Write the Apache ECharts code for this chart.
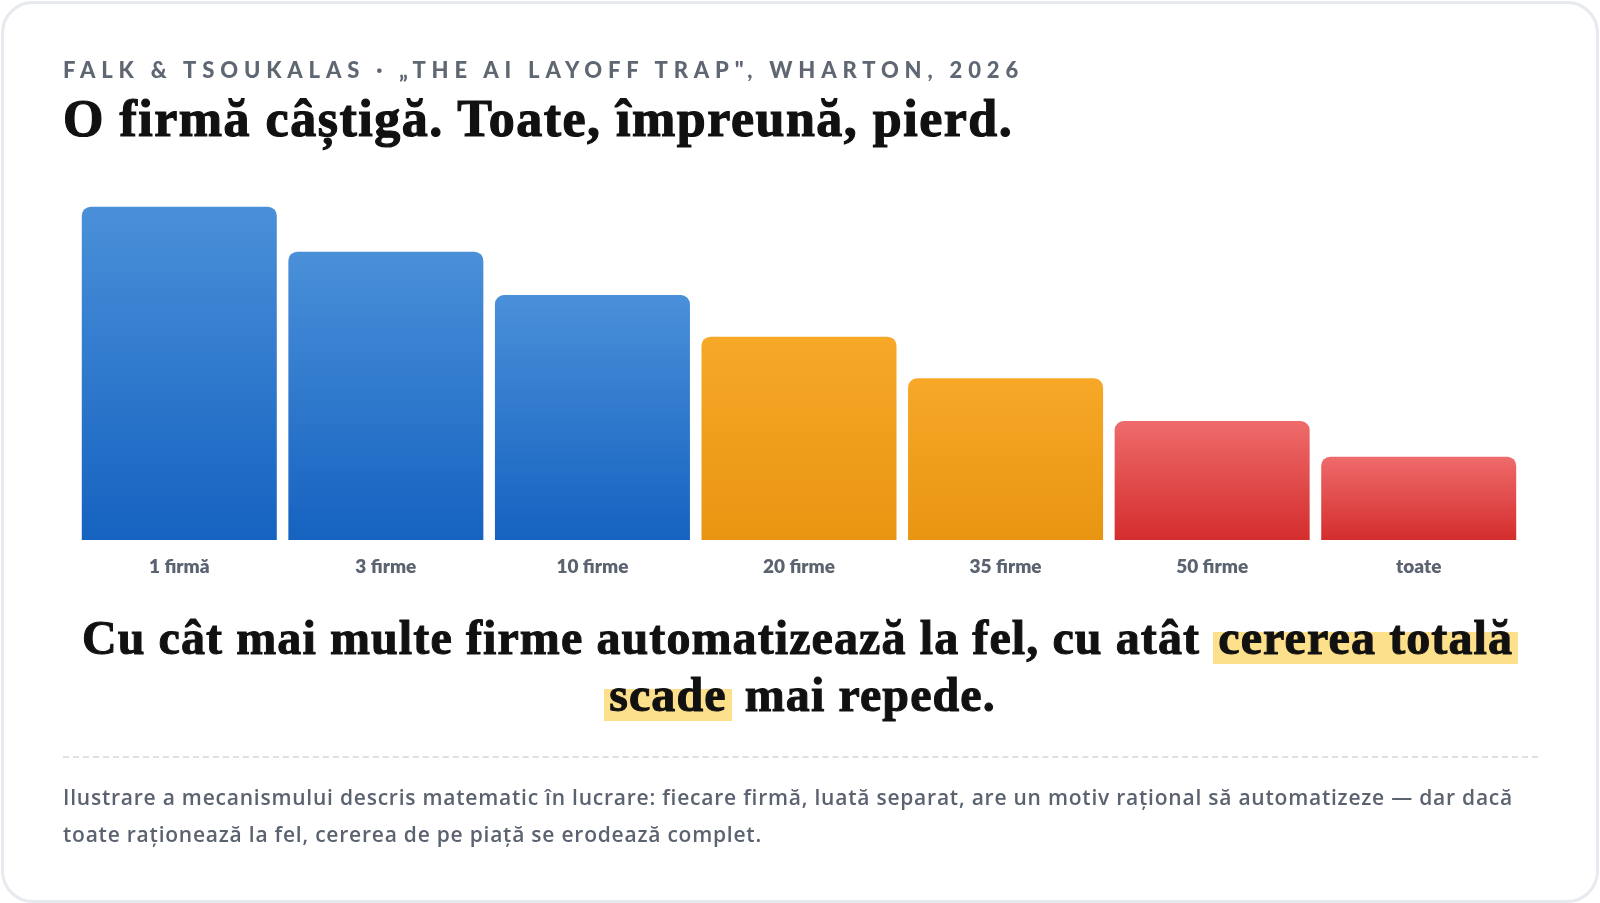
<!DOCTYPE html>
<html><head><meta charset="utf-8">
<script src="https://cdn.jsdelivr.net/npm/echarts@6/dist/echarts.min.js"></script>
<style>
html,body{margin:0;padding:0;background:#fff;}
#card{position:absolute;left:1px;top:1px;width:1592px;height:896px;border:3px solid #e6e9ee;border-radius:32px;background:#fff;box-sizing:content-box;}
#chart{position:absolute;left:0;top:0;width:1600px;height:903px;}
.t{position:absolute;white-space:nowrap;}
#kicker{left:63px;top:56px;font-family:Lato,sans-serif;font-weight:900;font-size:22px;letter-spacing:5.85px;color:#5f6772;}
#title{left:63px;top:89px;font-family:"Liberation Serif",serif;font-weight:700;font-size:52px;letter-spacing:1.5px;color:#111;-webkit-text-stroke:1.2px #111;}
#concl{left:0;width:1600px;top:609px;text-align:center;font-family:"Liberation Serif",serif;font-weight:700;font-size:48px;letter-spacing:1.1px;line-height:57px;color:#111;-webkit-text-stroke:1px #111;}
.hl{background:linear-gradient(transparent 40%,#fde08b 40%);padding:0 5px;}
#rule{position:absolute;left:63px;width:1475px;top:756px;border-top:2px dashed #dde0e5;}
#note{left:63px;top:779px;font-family:"Open Sans",sans-serif;font-weight:600;font-size:21px;letter-spacing:0.77px;line-height:37px;color:#5b6370;}
</style></head>
<body>
<div id="card"></div>
<div id="chart"></div>
<div class="t" id="kicker">FALK &amp; TSOUKALAS · „THE AI LAYOFF TRAP", WHARTON, 2026</div>
<div class="t" id="title">O firmă câștigă. Toate, împreună, pierd.</div>
<div class="t" id="concl">Cu cât mai multe firme automatizează la fel, cu atât <span class="hl">cererea totală</span><br><span class="hl">scade</span> mai repede.</div>
<div id="rule"></div>
<div class="t" id="note">Ilustrare a mecanismului descris matematic în lucrare: fiecare firmă, luată separat, are un motiv rațional să automatizeze — dar dacă<br>toate raționează la fel, cererea de pe piață se erodează complet.</div>
<script>
const categories = ['1 firmă','3 firme','10 firme','20 firme','35 firme','50 firme','toate'];
const demand = [100, 86.5, 73.5, 61, 48.5, 35.7, 25];
const groups = ['blue','blue','blue','orange','orange','red','red'];
const palette = {
  blue:['#4a90d9','#1562c0'],
  orange:['#f7a827','#e89512'],
  red:['#ef6b6b','#d42d2d']
};
const chart = echarts.init(document.getElementById('chart'), null, {renderer:'canvas'});
chart.setOption({
  animation:false,
  grid:{left:76, right:78, top:206.7, bottom:363},
  xAxis:{type:'category', data:categories,
    axisLine:{show:false}, axisTick:{show:false},
    axisLabel:{margin:17, fontFamily:'Lato', fontWeight:800, fontSize:19, color:'#5b6370'}},
  yAxis:{type:'value', min:0, max:100, show:false, splitLine:{show:false}},
  series:[{type:'bar', barCategoryGap:'5.6%',
    data: demand.map((v,i)=>({value:v, itemStyle:{color:new echarts.graphic.LinearGradient(0,0,0,1,[
      {offset:0,color:palette[groups[i]][0]},{offset:1,color:palette[groups[i]][1]}]), borderRadius:[9,9,0,0]}}))
  }]
});
</script>
</body></html>
